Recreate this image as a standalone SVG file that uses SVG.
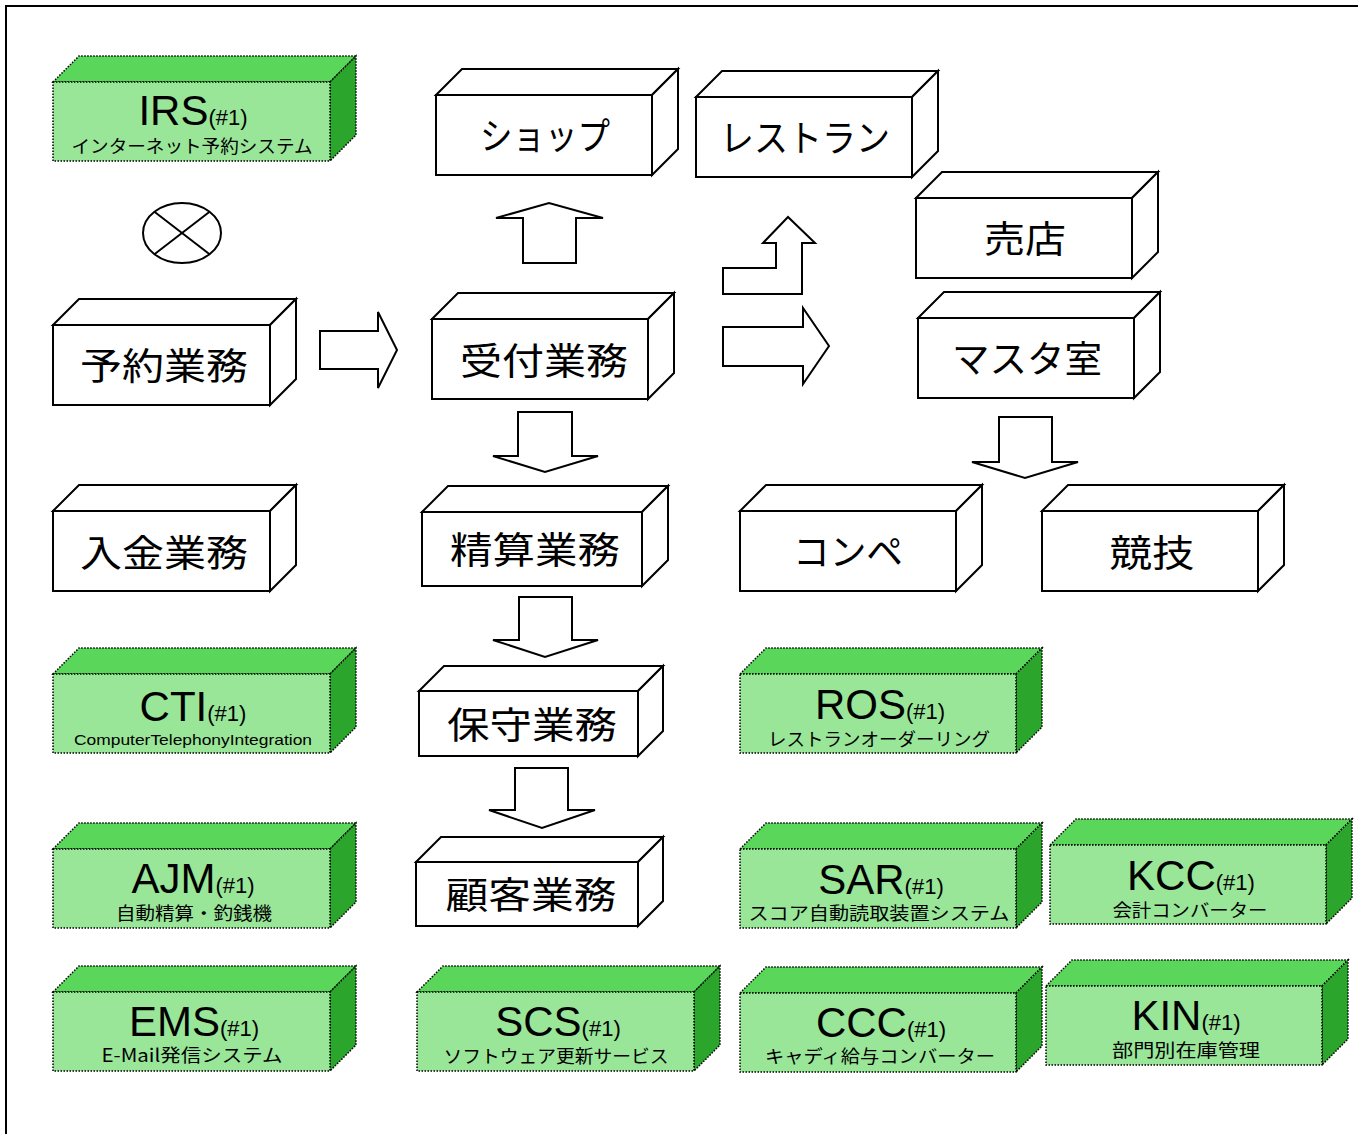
<svg xmlns="http://www.w3.org/2000/svg" width="1358" height="1134" viewBox="0 0 1358 1134">
<style>
.wf{fill:#ffffff;stroke:#000;stroke-width:2;stroke-linejoin:miter}
.gf{fill:#99e699;stroke:#000;stroke-width:1.5;stroke-dasharray:1.5 1.5}
.gt{fill:#5ad65a;stroke:#000;stroke-width:1.5;stroke-dasharray:1.5 1.5}
.gs{fill:#2ca52c;stroke:#000;stroke-width:1.5;stroke-dasharray:1.5 1.5}
.arr{fill:#ffffff;stroke:#000;stroke-width:2;stroke-linejoin:miter}
.wt{font-family:"Noto Sans CJK JP","Noto Sans",sans-serif;font-size:37px;fill:#000;text-anchor:middle}
.tt{font-family:"Liberation Sans",Arial,sans-serif;font-size:42px;fill:#000;text-anchor:middle}
.sm{font-size:22px}
.st{font-family:"Noto Sans CJK JP","Noto Sans",sans-serif;font-size:18px;fill:#000;text-anchor:middle}
.sl{font-family:"Liberation Sans",Arial,sans-serif;font-size:15px;fill:#000;text-anchor:middle}
</style>
<rect x="6" y="6" width="1420" height="1200" fill="#ffffff" stroke="#000" stroke-width="2"/>

<g id="connectors">
<ellipse cx="182" cy="233" rx="39" ry="30" fill="#fff" stroke="#000" stroke-width="2"/>
<line x1="154.4" y1="211.8" x2="209.6" y2="254.2" stroke="#000" stroke-width="2"/>
<line x1="209.6" y1="211.8" x2="154.4" y2="254.2" stroke="#000" stroke-width="2"/>
<polygon class="arr" points="320,331 378,331 378,312 397,350 378,388 378,369 320,369"/>
<polygon class="arr" points="523,263 523,218 496,218 549,203 603,218 576,218 576,263"/>
<polygon class="arr" points="723,294 723,268 776,268 776,243 763,243 788,217 815,243 802,243 802,294"/>
<polygon class="arr" points="723,327 803,327 803,308 829,346 803,384 803,366 723,366"/>
<polygon class="arr" points="518,412 572,412 572,456 598,456 545,472 493,456 518,456"/>
<polygon class="arr" points="519,597 572,597 572,640 598,640 545,657 493,640 519,640"/>
<polygon class="arr" points="515,768 568,768 568,810 595,810 542,828 489,810 515,810"/>
<polygon class="arr" points="999,417 1052,417 1052,462 1078,462 1025,478 972,462 999,462"/>
</g>

<g id="shop">
<rect class="wf" x="436" y="95" width="216" height="80"/>
<polygon class="wf" points="436,95 462,69 678,69 652,95"/>
<polygon class="wf" points="652,95 678,69 678,149 652,175"/>
<text class="wt" x="545" y="150" font-size="36" textLength="130" lengthAdjust="spacingAndGlyphs">ショップ</text>
</g>
<g id="restaurant">
<rect class="wf" x="696" y="97" width="216" height="80"/>
<polygon class="wf" points="696,97 722,71 938,71 912,97"/>
<polygon class="wf" points="912,97 938,71 938,151 912,177"/>
<text class="wt" x="805" y="152" font-size="36" textLength="170" lengthAdjust="spacingAndGlyphs">レストラン</text>
</g>
<g id="baiten">
<rect class="wf" x="916" y="198" width="216" height="80"/>
<polygon class="wf" points="916,198 942,172 1158,172 1132,198"/>
<polygon class="wf" points="1132,198 1158,172 1158,252 1132,278"/>
<text class="wt" x="1025" y="253" textLength="82" lengthAdjust="spacingAndGlyphs">売店</text>
</g>
<g id="master">
<rect class="wf" x="918" y="318" width="216" height="80"/>
<polygon class="wf" points="918,318 944,292 1160,292 1134,318"/>
<polygon class="wf" points="1134,318 1160,292 1160,372 1134,398"/>
<text class="wt" x="1027" y="373" textLength="150" lengthAdjust="spacingAndGlyphs">マスタ室</text>
</g>
<g id="uketsuke">
<rect class="wf" x="432" y="319" width="216" height="80"/>
<polygon class="wf" points="432,319 458,293 674,293 648,319"/>
<polygon class="wf" points="648,319 674,293 674,373 648,399"/>
<text class="wt" x="544" y="375" textLength="168" lengthAdjust="spacingAndGlyphs">受付業務</text>
</g>
<g id="yoyaku">
<rect class="wf" x="53" y="325" width="217" height="80"/>
<polygon class="wf" points="53,325 79,299 296,299 270,325"/>
<polygon class="wf" points="270,325 296,299 296,379 270,405"/>
<text class="wt" x="164" y="380" textLength="168" lengthAdjust="spacingAndGlyphs">予約業務</text>
</g>
<g id="nyukin">
<rect class="wf" x="53" y="511" width="217" height="80"/>
<polygon class="wf" points="53,511 79,485 296,485 270,511"/>
<polygon class="wf" points="270,511 296,485 296,565 270,591"/>
<text class="wt" x="164" y="567" textLength="168" lengthAdjust="spacingAndGlyphs">入金業務</text>
</g>
<g id="seisan">
<rect class="wf" x="422" y="512" width="220" height="74"/>
<polygon class="wf" points="422,512 448,486 668,486 642,512"/>
<polygon class="wf" points="642,512 668,486 668,560 642,586"/>
<text class="wt" x="535" y="564" textLength="170" lengthAdjust="spacingAndGlyphs">精算業務</text>
</g>
<g id="hoshu">
<rect class="wf" x="419" y="691" width="219" height="65"/>
<polygon class="wf" points="419,691 444,666 663,666 638,691"/>
<polygon class="wf" points="638,691 663,666 663,731 638,756"/>
<text class="wt" x="532" y="739" textLength="170" lengthAdjust="spacingAndGlyphs">保守業務</text>
</g>
<g id="kokyaku">
<rect class="wf" x="416" y="862" width="222" height="64"/>
<polygon class="wf" points="416,862 441,837 663,837 638,862"/>
<polygon class="wf" points="638,862 663,837 663,901 638,926"/>
<text class="wt" x="531" y="909" textLength="171" lengthAdjust="spacingAndGlyphs">顧客業務</text>
</g>
<g id="compe">
<rect class="wf" x="740" y="511" width="216" height="80"/>
<polygon class="wf" points="740,511 766,485 982,485 956,511"/>
<polygon class="wf" points="956,511 982,485 982,565 956,591"/>
<text class="wt" x="848" y="566" font-size="36" textLength="110" lengthAdjust="spacingAndGlyphs">コンペ</text>
</g>
<g id="kyogi">
<rect class="wf" x="1042" y="511" width="216" height="80"/>
<polygon class="wf" points="1042,511 1068,485 1284,485 1258,511"/>
<polygon class="wf" points="1258,511 1284,485 1284,565 1258,591"/>
<text class="wt" x="1152" y="567" textLength="85" lengthAdjust="spacingAndGlyphs">競技</text>
</g>

<g id="irs">
<polygon class="gt" points="53,82 79,56 356,56 330,82"/>
<polygon class="gs" points="330,82 356,56 356,135 330,161"/>
<rect class="gf" x="53" y="82" width="277" height="79"/>
<text class="tt" x="193" y="125">IRS<tspan class="sm">(#1)</tspan></text>
<text class="st" x="192" y="153" textLength="241" lengthAdjust="spacingAndGlyphs">インターネット予約システム</text>
</g>
<g id="cti">
<polygon class="gt" points="53,674 79,648 356,648 330,674"/>
<polygon class="gs" points="330,674 356,648 356,727 330,753"/>
<rect class="gf" x="53" y="674" width="277" height="79"/>
<text class="tt" x="193" y="721">CTI<tspan class="sm">(#1)</tspan></text>
<text class="sl" x="193" y="745" textLength="238" lengthAdjust="spacingAndGlyphs">ComputerTelephonyIntegration</text>
</g>
<g id="ajm">
<polygon class="gt" points="53,849 79,823 356,823 330,849"/>
<polygon class="gs" points="330,849 356,823 356,902 330,928"/>
<rect class="gf" x="53" y="849" width="277" height="79"/>
<text class="tt" x="193" y="893">AJM<tspan class="sm">(#1)</tspan></text>
<text class="st" x="194" y="920" textLength="156" lengthAdjust="spacingAndGlyphs">自動精算・釣銭機</text>
</g>
<g id="ems">
<polygon class="gt" points="53,992 79,966 356,966 330,992"/>
<polygon class="gs" points="330,992 356,966 356,1045 330,1071"/>
<rect class="gf" x="53" y="992" width="277" height="79"/>
<text class="tt" x="194" y="1036">EMS<tspan class="sm">(#1)</tspan></text>
<text class="st" x="192" y="1062" textLength="181" lengthAdjust="spacingAndGlyphs">E-Mail発信システム</text>
</g>
<g id="scs">
<polygon class="gt" points="417,992 443,966 720,966 694,992"/>
<polygon class="gs" points="694,992 720,966 720,1045 694,1071"/>
<rect class="gf" x="417" y="992" width="277" height="79"/>
<text class="tt" x="558" y="1036">SCS<tspan class="sm">(#1)</tspan></text>
<text class="st" x="556" y="1063" textLength="225" lengthAdjust="spacingAndGlyphs">ソフトウェア更新サービス</text>
</g>
<g id="ros">
<polygon class="gt" points="740,674 766,648 1042,648 1016,674"/>
<polygon class="gs" points="1016,674 1042,648 1042,727 1016,753"/>
<rect class="gf" x="740" y="674" width="276" height="79"/>
<text class="tt" x="880" y="719">ROS<tspan class="sm">(#1)</tspan></text>
<text class="st" x="879" y="746" textLength="222" lengthAdjust="spacingAndGlyphs">レストランオーダーリング</text>
</g>
<g id="sar">
<polygon class="gt" points="740,849 766,823 1042,823 1016,849"/>
<polygon class="gs" points="1016,849 1042,823 1042,902 1016,928"/>
<rect class="gf" x="740" y="849" width="276" height="79"/>
<text class="tt" x="881" y="894">SAR<tspan class="sm">(#1)</tspan></text>
<text class="st" x="879" y="920" textLength="261" lengthAdjust="spacingAndGlyphs">スコア自動読取装置システム</text>
</g>
<g id="ccc">
<polygon class="gt" points="740,993 766,967 1042,967 1016,993"/>
<polygon class="gs" points="1016,993 1042,967 1042,1046 1016,1072"/>
<rect class="gf" x="740" y="993" width="276" height="79"/>
<text class="tt" x="881" y="1037">CCC<tspan class="sm">(#1)</tspan></text>
<text class="st" x="880" y="1063" textLength="230" lengthAdjust="spacingAndGlyphs">キャディ給与コンバーター</text>
</g>
<g id="kcc">
<polygon class="gt" points="1050,845 1076,819 1352,819 1326,845"/>
<polygon class="gs" points="1326,845 1352,819 1352,898 1326,924"/>
<rect class="gf" x="1050" y="845" width="276" height="79"/>
<text class="tt" x="1191" y="890">KCC<tspan class="sm">(#1)</tspan></text>
<text class="st" x="1190" y="917" textLength="155" lengthAdjust="spacingAndGlyphs">会計コンバーター</text>
</g>
<g id="kin">
<polygon class="gt" points="1046,986 1072,960 1348,960 1322,986"/>
<polygon class="gs" points="1322,986 1348,960 1348,1039 1322,1065"/>
<rect class="gf" x="1046" y="986" width="276" height="79"/>
<text class="tt" x="1186" y="1030">KIN<tspan class="sm">(#1)</tspan></text>
<text class="st" x="1186" y="1057" textLength="148" lengthAdjust="spacingAndGlyphs">部門別在庫管理</text>
</g>
</svg>
